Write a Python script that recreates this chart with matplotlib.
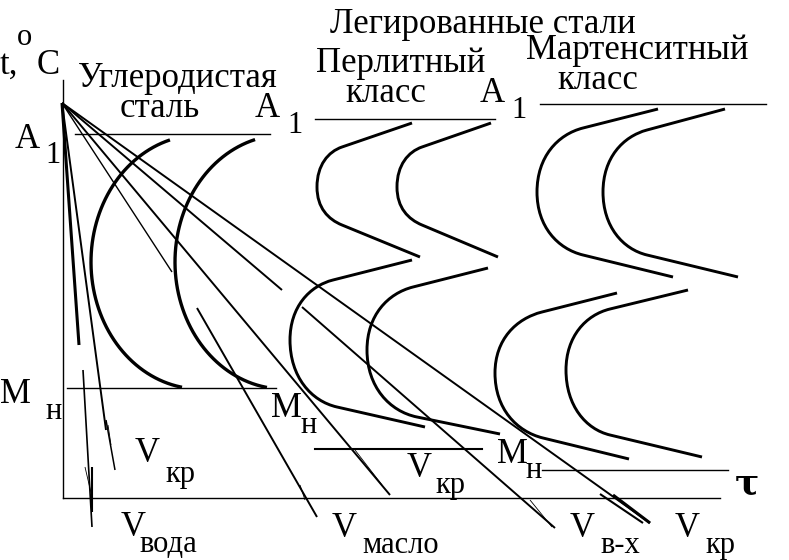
import numpy as np
import matplotlib.pyplot as plt
from matplotlib.path import Path
from matplotlib.patches import PathPatch

plt.rcParams['font.family'] = ['Liberation Serif', 'DejaVu Serif']

# схема в пикселях картинки 789x560 (y вниз)
W, H = 789, 560

origin = (62, 103)

# дуги углеродистой стали: центр x, центр y, rx, ry, угол начала, угол конца
carbon_arcs = [
    (200, 262, 109, 127, 106, 260.5),
    (284, 262, 109, 127, 105.4, 261),
]

# носы С-кривых: конец верхнего хвоста, начало дуги, крайняя левая точка, конец дуги, конец нижнего хвоста
perlit_noses = [
    [(412, 123), (342, 147), (317, 187), (342, 225), (420, 257)],
    [(491, 123), (422, 147), (397, 187), (422, 225), (498, 257)],
    [(412, 260), (333, 280), (290, 340), (337, 407), (425, 427)],
    [(488, 268), (413, 287), (367, 350), (417, 417), (500, 434)],
]
martens_noses = [
    [(658, 109), (583, 128), (537, 192), (583, 255), (673, 277)],
    [(725, 109), (647, 130), (603, 192), (647, 255), (738, 277)],
    [(617, 293), (542, 312), (495, 373), (543, 438), (629, 459)],
    [(688, 290), (610, 309), (566, 370), (610, 435), (702, 457)],
]

# горизонтальные линии A1 и Mн: x0, x1, y
a1_lines = [(75, 270, 134), (315, 495, 119), (540, 766, 104)]
mn_lines = [(67, 276, 388), (315, 482, 449), (542, 728, 470)]

# кривые охлаждения: x0, y0, x1, y1, толщина
cooling = [
    (origin[0], origin[1], 79, 345, 2.2),      # V вода
    (83, 370, 92, 527, 1.2),
    (85, 467, 92, 497, 0.6),
    (92, 467, 92, 512, 1.5),
    (origin[0], origin[1], 106, 430, 1.4),     # V кр
    (106, 420, 115, 470, 1.1),
    (108, 425, 111, 445, 0.6),
    (origin[0], origin[1], 172, 272, 1.0),     # V масло
    (197, 308, 317, 517, 1.4),
    (300, 485, 305, 500, 0.6),
    (origin[0], origin[1], 390, 495, 1.4),
    (355, 450, 382, 485, 0.6),
    (origin[0], origin[1], 282, 290, 1.4),     # V в-х
    (302, 307, 555, 528, 1.4),
    (530, 500, 552, 527, 0.6),
    (origin[0], origin[1], 650, 523, 1.4),     # V кр
    (600, 494, 643, 523, 1.5),
    (613, 495, 650, 523, 2.2),
]

labels_main = [
    ("t,", 0, 74), ("C", 37, 74),
    ("Углеродистая", 78, 87), ("сталь", 120, 117),
    ("A", 255, 117), ("A", 15, 148),
    ("Легированные стали", 330, 33),
    ("Перлитный", 316, 72), ("класс", 345, 102), ("A", 480, 102),
    ("Мартенситный", 526, 59), ("класс", 557, 89),
    ("М", 0, 403), ("V", 135, 462), ("V", 121, 536),
    ("М", 271, 417), ("V", 407, 477), ("М", 497, 463),
    ("V", 332, 537), ("V", 570, 537), ("V", 675, 537),
]
labels_sub = [
    ("o", 17, 45), ("1", 287, 133), ("1", 45, 163), ("1", 511, 118),
    ("н", 45, 419), ("кр", 165, 482), ("вода", 139, 552),
    ("н", 300, 433), ("кр", 435, 493), ("н", 525, 478),
    ("масло", 362, 553), ("в-х", 600, 553), ("кр", 705, 553),
]


def nose_path(pts):
    (xt, yt), (x1, y1), (xl, yl), (x2, y2), (xb, yb) = [np.array(p, float) for p in pts]
    k = 0.55
    u1 = np.array([x1 - xt, y1 - yt]); u1 /= np.hypot(*u1)
    u2 = np.array([x2 - xb, y2 - yb]); u2 /= np.hypot(*u2)
    h1 = k * (x1 - xl) / abs(u1[0])
    h2 = k * (x2 - xl) / abs(u2[0])
    verts = [
        (xt, yt), (x1, y1),
        tuple(np.array([x1, y1]) + u1 * h1), (xl, yl - k * (yl - y1)), (xl, yl),
        (xl, yl + k * (y2 - yl)), tuple(np.array([x2, y2]) + u2 * h2), (x2, y2),
        (xb, yb),
    ]
    codes = [Path.MOVETO, Path.LINETO,
             Path.CURVE4, Path.CURVE4, Path.CURVE4,
             Path.CURVE4, Path.CURVE4, Path.CURVE4,
             Path.LINETO]
    return Path(verts, codes)


fig = plt.figure(figsize=(W / 100, H / 100), dpi=100)
ax = fig.add_axes([0, 0, 1, 1])
ax.set_xlim(0, W)
ax.set_ylim(H, 0)
ax.axis('off')

# оси
ax.plot([63, 63], [80, 498], color='black', lw=1.0)
ax.plot([63, 720], [498, 498], color='black', lw=1.0)

for x0, x1, y in a1_lines:
    ax.plot([x0, x1], [y, y], color='black', lw=1.0)
for i, (x0, x1, y) in enumerate(mn_lines):
    ax.plot([x0, x1], [y, y], color='black', lw=1.5 if i == 1 else 1.0)

for cx, cy, rx, ry, t0, t1 in carbon_arcs:
    t = np.radians(np.linspace(t0, t1, 200))
    ax.plot(cx + rx * np.cos(t), cy - ry * np.sin(t), color='black', lw=2.4,
            solid_capstyle='butt')

for pts in perlit_noses + martens_noses:
    ax.add_patch(PathPatch(nose_path(pts), fill=False, edgecolor='black', lw=2.1,
                           capstyle='butt'))

for x0, y0, x1, y1, lw in cooling:
    ax.plot([x0, x1], [y0, y1], color='black', lw=lw, solid_capstyle='butt')

for s, x, y in labels_main:
    ax.text(x, y, s, fontsize=25, ha='left', va='baseline')
for s, x, y in labels_sub:
    ax.text(x, y, s, fontsize=22, ha='left', va='baseline')

ax.text(735, 493, "τ", fontsize=26, fontweight='bold', ha='left', va='baseline',
        family=['DejaVu Serif'])

fig.savefig('out.png', dpi=100)
